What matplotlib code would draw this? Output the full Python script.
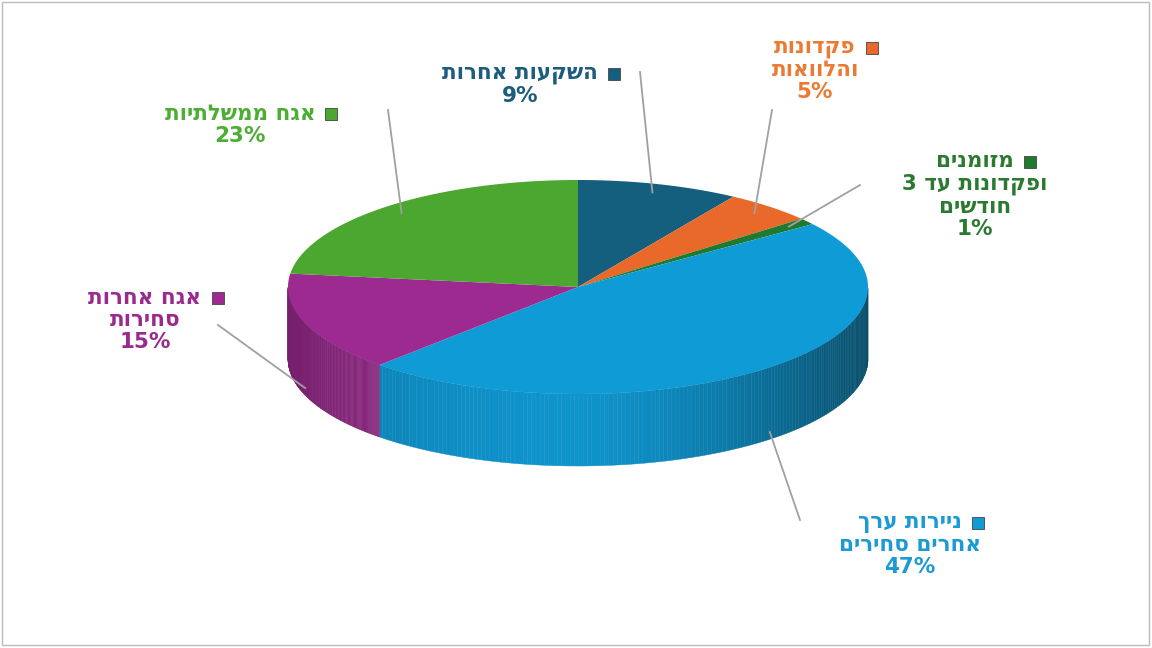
import numpy as np
import matplotlib
matplotlib.use("Agg")
import matplotlib.pyplot as plt
from matplotlib.patches import Rectangle

labels = ["השקעות אחרות", "פקדונות\nוהלוואות", "מזומנים\nופקדונות עד 3\nחודשים",
          "ניירות ערך\nאחרים סחירים", "אגח אחרות\nסחירות", "אגח ממשלתיות"]
values = [9, 5, 1, 47, 15, 23]
colors = ["#145E7E", "#E8692A", "#1F7A30", "#0F9BD6", "#9D2A91", "#4BA72F"]
text_colors = ["#1C5C7C", "#EB7A33", "#2C7A32", "#1B9AD6", "#9B2A8F", "#4DAE34"]
label_pos = [(520, 85), (815, 70), (975, 195), (910, 545), (145, 320), (240, 125)]
line_targets = [(640, 72), (772, 110), (860, 185), (800, 520), (218, 325), (388, 110)]

def darker(c, f):
    r, g, b = matplotlib.colors.to_rgb(c)
    return (r * f, g * f, b * f)

def heb(s):
    return "\n".join(line[::-1] for line in s.split("\n"))

cx, cy, rx, ry, depth = 578, 287, 290, 107, 72
fig = plt.figure(figsize=(11.52, 6.48), dpi=100)
ax = fig.add_axes([0, 0, 1, 1])
ax.set_xlim(0, 1152); ax.set_ylim(648, 0); ax.axis("off")
ax.add_patch(Rectangle((2, 2), 1147, 643, fill=False, ec="#BBBBBB", lw=1))

fr = np.cumsum([0] + values) / sum(values)
angs = [np.pi / 2 - 2 * np.pi * f for f in fr]

for i in range(len(values)):
    t = np.linspace(angs[i], angs[i + 1], 200)
    t = t[np.sin(t) <= 0.0]
    if len(t) < 2:
        continue
    xs = cx + rx * np.cos(t); ys = cy - ry * np.sin(t)
    for k in range(len(t) - 1):
        c = np.cos(t[k])
        sh = 0.95 - 0.45 * max(c, 0) ** 1.5 - 0.2 * max(-c, 0) ** 2
        ax.fill([xs[k], xs[k + 1], xs[k + 1], xs[k]],
                [ys[k], ys[k + 1], ys[k + 1] + depth, ys[k] + depth],
                color=darker(colors[i], sh), lw=0.3, ec=darker(colors[i], sh))
for i in range(len(values)):
    t = np.linspace(angs[i], angs[i + 1], 200)
    xs = np.concatenate([[cx], cx + rx * np.cos(t)]); ys = np.concatenate([[cy], cy - ry * np.sin(t)])
    ax.fill(xs, ys, color=colors[i], lw=0)

fig.canvas.draw()
rend = fig.canvas.get_renderer()
for i in range(len(values)):
    mid = (angs[i] + angs[i + 1]) / 2
    if np.sin(mid) < 0:
        ex, ey = cx + rx * np.cos(mid), cy - ry * np.sin(mid) + depth * 0.9
    else:
        ex, ey = cx + rx * 0.92 * np.cos(mid), cy - ry * 0.92 * np.sin(mid)
    tx, ty = line_targets[i]
    ax.plot([ex, tx], [ey, ty], color="#A0A0A0", lw=1.3)
    x, y = label_pos[i]
    txt = heb(labels[i]) + "\n" + f"{values[i]}%"
    t = ax.text(x, y, txt, ha="center", va="center", color=text_colors[i],
                fontsize=15.5, fontweight="bold", family="DejaVu Sans", linespacing=1.15)
    first = heb(labels[i].split("\n")[0])
    nl = labels[i].count("\n") + 2
    tmp = ax.text(0, 0, first, fontsize=15.5, fontweight="bold", family="DejaVu Sans")
    w = tmp.get_window_extent(rend).width
    tmp.remove()
    bb = t.get_window_extent(rend)
    lh = bb.height / nl
    top_y = y - bb.height / 2 + lh / 2
    ax.add_patch(Rectangle((x + w / 2 + 10, top_y - 6), 12, 12, color=colors[i], ec="#444444", lw=0.6))

fig.savefig("out.png", dpi=100)
